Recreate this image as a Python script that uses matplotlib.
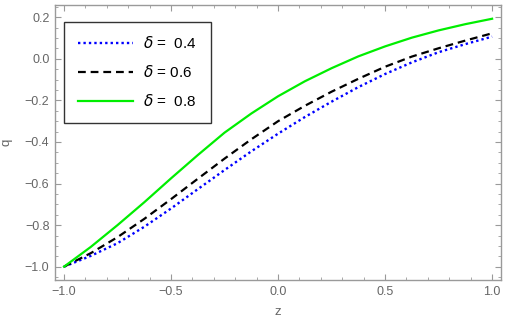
import numpy as np
import matplotlib
matplotlib.use("Agg")
import matplotlib.pyplot as plt
from matplotlib.ticker import MultipleLocator

plt.rcParams['font.family'] = ['Liberation Sans', 'DejaVu Sans']
plt.rcParams['mathtext.fontset'] = 'dejavusans'

# values, z step 0.125
z = [-1.0, -0.875, -0.75, -0.625, -0.5, -0.375, -0.25, -0.125, 0.0,
     0.125, 0.25, 0.375, 0.5, 0.625, 0.75, 0.875, 1.0]
q_04 = [-1.0, -0.948, -0.887, -0.808, -0.72, -0.627, -0.535, -0.445, -0.36,
        -0.28, -0.206, -0.136, -0.073, -0.017, 0.032, 0.071, 0.107]
q_06 = [-1.0, -0.935, -0.858, -0.77, -0.675, -0.577, -0.48, -0.387, -0.30,
        -0.226, -0.158, -0.096, -0.038, 0.011, 0.051, 0.088, 0.123]
q_08 = [-1.0, -0.905, -0.80, -0.69, -0.575, -0.463, -0.355, -0.263, -0.18,
        -0.108, -0.045, 0.012, 0.06, 0.102, 0.137, 0.167, 0.193]
labels = [r"$\delta$ =  0.4", r"$\delta$ = 0.6", r"$\delta$ =  0.8"]

frame_col = "#9a9a9a"
tick_col = "#666666"

fig = plt.figure(figsize=(5.07, 3.25), dpi=100)
ax = fig.add_axes([0.1085, 0.1385, 0.879, 0.846])

ax.plot(z, q_04, color="#0000ff", lw=1.7, ls=(0, (1.0, 1.3)), label=labels[0])
ax.plot(z, q_06, color="black", lw=1.6, ls=(0, (3.5, 2.2)), label=labels[1])
ax.plot(z, q_08, color="#00ee00", lw=1.6, ls="-", label=labels[2])

ax.set_xlim(-1.042, 1.04)
ax.set_ylim(-1.064, 0.259)

ax.xaxis.set_major_locator(MultipleLocator(0.5))
ax.xaxis.set_minor_locator(MultipleLocator(0.1))
ax.yaxis.set_major_locator(MultipleLocator(0.2))
ax.yaxis.set_minor_locator(MultipleLocator(0.05))
ax.xaxis.set_major_formatter(lambda v, p: f"{v:.1f}".replace("-", "\u2212"))
ax.yaxis.set_major_formatter(lambda v, p: f"{v:.1f}".replace("-", "\u2212"))

ax.tick_params(which="both", direction="in", top=True, right=True,
               color=frame_col, labelcolor=tick_col, labelsize=9)
ax.tick_params(which="major", length=4.5, width=0.8, pad=4)
ax.tick_params(which="minor", length=2.5, width=0.6)
for s in ax.spines.values():
    s.set_color(frame_col)
    s.set_linewidth(1.0)

ax.set_xlabel("z", color=tick_col, fontsize=9.5, labelpad=6)
ax.set_ylabel("q", color=tick_col, fontsize=9.5, labelpad=9)

leg = ax.legend(loc="upper left", bbox_to_anchor=(0.02, 0.94), fontsize=11,
                frameon=True, fancybox=False, borderaxespad=0,
                handlelength=3.6, handletextpad=0.7, labelspacing=0.85,
                borderpad=0.9)
leg.get_frame().set_edgecolor("black")
leg.get_frame().set_linewidth(1.0)

fig.savefig("out.png", dpi=100)
